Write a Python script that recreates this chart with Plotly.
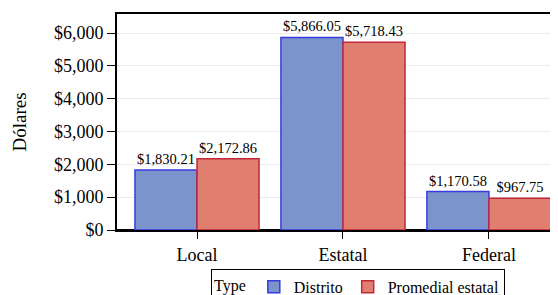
import plotly.graph_objects as go

categories = ["Local", "Estatal", "Federal"]
distrito = [1830.21, 5866.05, 1170.58]
promedial = [2172.86, 5718.43, 967.75]
series_names = ["Distrito", "Promedial estatal"]
y_ticks = [0, 1000, 2000, 3000, 4000, 5000, 6000]
y_tick_labels = ["$0", "$1,000", "$2,000", "$3,000", "$4,000", "$5,000", "$6,000"]

FONT = "Liberation Serif"

def fmt(v):
    return "${:,.2f}".format(v)

fig = go.Figure()
fig.add_trace(go.Bar(
    x=categories, y=distrito, name=series_names[0],
    marker=dict(color="#7b95cc", line=dict(color="#3a3ae0", width=1.5)),
    text=[fmt(v) for v in distrito], textposition="outside",
    textfont=dict(family=FONT, size=14.5, color="black"), cliponaxis=False,
))
fig.add_trace(go.Bar(
    x=categories, y=promedial, name=series_names[1],
    marker=dict(color="#e07f6f", line=dict(color="#c0283a", width=1.5)),
    text=[fmt(v) for v in promedial], textposition="outside",
    textfont=dict(family=FONT, size=14.5, color="black"), cliponaxis=False,
))

fig.update_layout(
    width=570, height=295,
    margin=dict(l=109, r=0, t=6, b=73, autoexpand=False),
    paper_bgcolor="white", plot_bgcolor="white",
    font=dict(family=FONT, size=18, color="black"),
    barmode="group", bargap=0.15, bargroupgap=0,
    showlegend=True,
    legend=dict(
        orientation="h", x=0.204, xanchor="left", y=-0.18, yanchor="top",
        title=dict(text="Type", font=dict(family=FONT, size=16)),
        font=dict(family=FONT, size=16),
        bordercolor="black", borderwidth=1, bgcolor="white",
        itemwidth=30, tracegroupgap=0,
    ),
)
fig.update_xaxes(
    range=[-0.548, 2.61], showline=True, linecolor="black", linewidth=2,
    mirror=True, ticks="outside", ticklen=7, tickcolor="black",
    tickfont=dict(family=FONT, size=18), showgrid=False,
)
fig.update_yaxes(
    range=[0, 6580], showline=True, linecolor="black", linewidth=2,
    ticks="outside", ticklen=8, tickcolor="black",
    tickvals=y_ticks, ticktext=y_tick_labels,
    tickfont=dict(family=FONT, size=18),
    showgrid=True, gridcolor="#ebebeb", gridwidth=1,
    zeroline=True, zerolinecolor="black", zerolinewidth=2.5,
    title=dict(text="Dólares", font=dict(family=FONT, size=19), standoff=22),
)

fig.write_html("out.html")
